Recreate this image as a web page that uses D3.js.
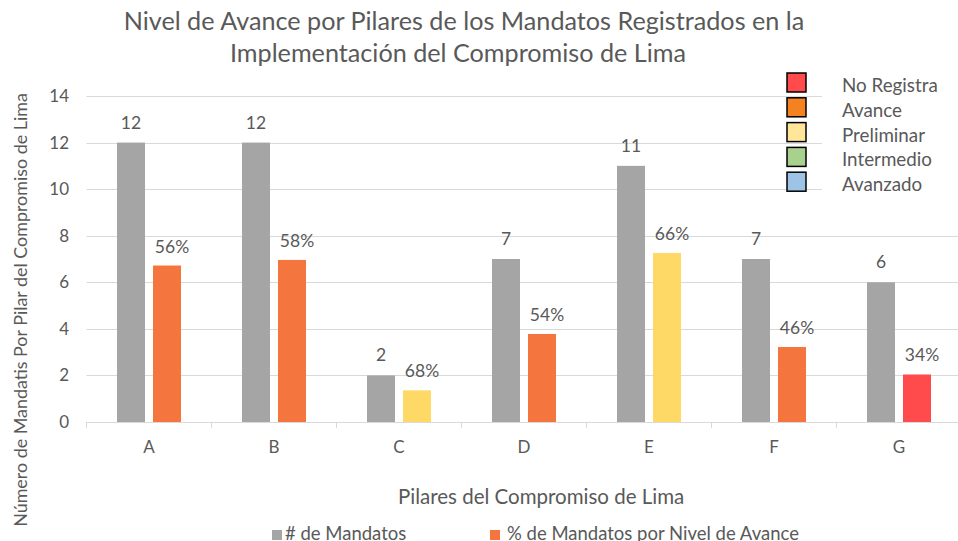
<!DOCTYPE html>
<html>
<head>
<meta charset="utf-8">
<script src="https://cdn.jsdelivr.net/npm/d3@7"></script>
<style>
  body { margin: 0; background: #fff; }
  text { font-family: Lato, "Open Sans", sans-serif; fill: #595959; }
</style>
</head>
<body>
<script>
"use strict";

const pilares = ["A", "B", "C", "D", "E", "F", "G"];
const mandatos = [12, 12, 2, 7, 11, 7, 6];
const avance = [6.72, 6.96, 1.36, 3.78, 7.26, 3.22, 2.04];
const avanceLabels = ["56%", "58%", "68%", "54%", "66%", "46%", "34%"];
const avanceNivel = ["Avance", "Avance", "Preliminar", "Avance", "Preliminar", "Avance", "No Registra"];
const yTicks = [0, 2, 4, 6, 8, 10, 12, 14];
const niveles = ["No Registra", "Avance", "Preliminar", "Intermedio", "Avanzado"];
const series = ["# de Mandatos", "% de Mandatos por Nivel de Avance"];

const width = 958, height = 541;

const barColor = {
  "No Registra": "#ff4b4b",
  "Avance": "#f4763e",
  "Preliminar": "#ffd966",
  "Intermedio": "#a9d18e",
  "Avanzado": "#9dc3e6"
};
const legendColor = {
  "No Registra": "#ff4b4b",
  "Avance": "#f58220",
  "Preliminar": "#ffe699",
  "Intermedio": "#a9d18e",
  "Avanzado": "#9dc3e6"
};

let svg = d3.select("body").append("svg")
  .attr("width", width).attr("height", height);

let x = d3.scaleBand().domain(pilares).range([86.5, 961.5]);
let inner = d3.scaleBand().domain(series).range([0, 64]).paddingInner(0.222);
let y = d3.scaleLinear().domain([0, 14]).range([422, 96]);

// gridlines
svg.append("g").selectAll("line")
  .data(yTicks.slice(1))
  .enter().append("line")
  .attr("x1", 86.5).attr("x2", width)
  .attr("y1", d => Math.round(y(d)) + 0.5).attr("y2", d => Math.round(y(d)) + 0.5)
  .attr("stroke", "#d9d9d9").attr("stroke-width", 1);

// y axis labels
let yAxis = svg.append("g")
  .attr("transform", "translate(69,0)")
  .call(d3.axisLeft(y).tickValues(yTicks).tickSize(0).tickPadding(0));
yAxis.select(".domain").remove();
yAxis.selectAll("text").style("font-size", "17px").attr("fill", "#595959");

// x axis
svg.append("line")
  .attr("x1", 86.5).attr("x2", width)
  .attr("y1", 422.5).attr("y2", 422.5)
  .attr("stroke", "#d9d9d9");
svg.append("g").selectAll("line")
  .data(pilares)
  .enter().append("line")
  .attr("x1", d => x(d)).attr("x2", d => x(d))
  .attr("y1", 422).attr("y2", 428)
  .attr("stroke", "#d9d9d9");
let xAxis = svg.append("g")
  .attr("transform", "translate(0,422)")
  .call(d3.axisBottom(x).tickSize(0).tickPadding(19));
xAxis.select(".domain").remove();
xAxis.selectAll("text").style("font-size", "17px").attr("fill", "#595959");

// bars
let groups = svg.append("g").selectAll("g")
  .data(pilares)
  .enter().append("g")
  .attr("transform", d => "translate(" + (x(d) + (x.bandwidth() - 64) / 2) + ",0)");

groups.append("rect")
  .attr("x", inner(series[0]))
  .attr("width", inner.bandwidth())
  .attr("y", (d, i) => y(mandatos[i]))
  .attr("height", (d, i) => y(0) - y(mandatos[i]))
  .attr("fill", "#a5a5a5");

groups.append("rect")
  .attr("x", inner(series[1]))
  .attr("width", inner.bandwidth())
  .attr("y", (d, i) => y(avance[i]))
  .attr("height", (d, i) => y(0) - y(avance[i]))
  .attr("fill", (d, i) => barColor[avanceNivel[i]]);

groups.append("text")
  .attr("x", inner(series[0]) + inner.bandwidth() / 2)
  .attr("y", (d, i) => y(mandatos[i]) - 14)
  .attr("text-anchor", "middle")
  .style("font-size", "17.5px")
  .text((d, i) => mandatos[i]);

groups.append("text")
  .attr("x", inner(series[1]) + inner.bandwidth() / 2 + 5)
  .attr("y", (d, i) => y(avance[i]) - 13)
  .attr("text-anchor", "middle")
  .style("font-size", "17.5px")
  .text((d, i) => avanceLabels[i]);

// title
let title = svg.append("text")
  .attr("text-anchor", "middle")
  .style("font-size", "25.2px");
title.append("tspan").attr("x", 464).attr("y", 30)
  .text("Nivel de Avance por Pilares de los Mandatos Registrados en la");
title.append("tspan").attr("x", 458).attr("y", 62)
  .text("Implementación del Compromiso  de Lima");

// axis titles
svg.append("text")
  .attr("x", 398).attr("y", 504)
  .style("font-size", "20.5px")
  .text("Pilares del Compromiso de Lima");

svg.append("text")
  .attr("transform", "translate(27,310) rotate(-90)")
  .attr("text-anchor", "middle")
  .style("font-size", "17.9px")
  .text("Número de Mandatis Por Pilar del Compromiso de Lima");

// nivel legend (top right)
svg.append("rect")
  .attr("x", 822).attr("y", 70).attr("width", 136).attr("height", 128)
  .attr("fill", "#fff");
let nivelLeg = svg.append("g").selectAll("g")
  .data(niveles)
  .enter().append("g")
  .attr("transform", (d, i) => "translate(0," + (i * 24.8) + ")");
nivelLeg.append("rect")
  .attr("x", 787).attr("y", 73)
  .attr("width", 19).attr("height", 19)
  .attr("fill", d => legendColor[d])
  .attr("stroke", "#000").attr("stroke-width", 1.5);
nivelLeg.append("text")
  .attr("x", 842).attr("y", 92)
  .style("font-size", "18.8px")
  .text(d => d);

// series legend (bottom)
let serLeg = svg.append("g").selectAll("g")
  .data(series)
  .enter().append("g");
serLeg.append("rect")
  .attr("x", (d, i) => [272, 490][i]).attr("y", 530)
  .attr("width", 10).attr("height", 10)
  .attr("fill", (d, i) => ["#a5a5a5", "#f4763e"][i]);
serLeg.append("text")
  .attr("x", (d, i) => [285, 507][i]).attr("y", 540)
  .style("font-size", "18.5px")
  .text(d => d);
</script>
</body>
</html>
